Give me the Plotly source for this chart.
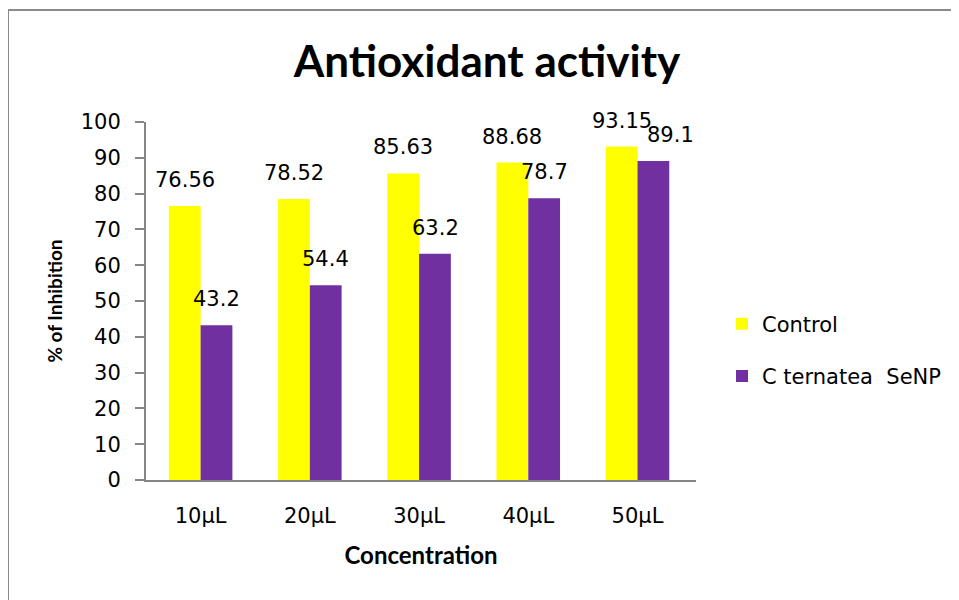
import plotly.graph_objects as go

categories = ["10µL", "20µL", "30µL", "40µL", "50µL"]
control = [76.56, 78.52, 85.63, 88.68, 93.15]
senp = [43.2, 54.4, 63.2, 78.7, 89.1]
series_names = ["Control", "C ternatea  SeNP"]
y_ticks = list(range(0, 101, 10))

YELLOW = "#FFFF00"
PURPLE = "#7030A0"
AXIS = "#868686"
FONT = "DejaVu Sans"
TFONT = "Lato"

OFF = 8  # browser default body margin
W, H = 959 - OFF, 600 - OFF
L, T = 146 - OFF, 122 - OFF
R, B = 263, 120
PW, PH = W - L - R, H - T - B

fig = go.Figure()
fig.add_trace(go.Bar(x=categories, y=control, name=series_names[0],
                     marker=dict(color=YELLOW, line=dict(width=0)),
                     legendgroup="a"))
fig.add_trace(go.Bar(x=categories, y=senp, name=series_names[1],
                     marker=dict(color=PURPLE, line=dict(width=0)),
                     legendgroup="b"))

bar_half = 16
extra_nudge = {(1, 4): 17}
for si, vals in enumerate([control, senp]):
    for ci, (c, v) in enumerate(zip(categories, vals)):
        fig.add_annotation(x=c, y=v, text=f"{v:g}", showarrow=False,
                           xshift=(-bar_half if si == 0 else bar_half) + extra_nudge.get((si, ci), 0),
                           yshift=26, yanchor="middle",
                           font=dict(family=FONT, size=21, color="#000000"))

# chart border (page coords: left 8, top 10)
fig.add_shape(type="rect", xref="paper", yref="paper",
              x0=(8 - OFF - L) / PW, x1=(W + 20 - L) / PW,
              y0=(H - B - (H + 20)) / PH, y1=(H - B - (10 - OFF)) / PH,
              line=dict(color="#8a8a8a", width=2), fillcolor="rgba(0,0,0,0)", layer="below")

fig.update_layout(
    width=W, height=H, autosize=False,
    margin=dict(l=L, r=R, t=T, b=B, pad=0),
    paper_bgcolor="white", plot_bgcolor="white",
    barmode="group", bargap=0.418, bargroupgap=0,
    title=dict(text="<b>Antioxidant activity</b>", x=(487 - OFF) / W, xanchor="center",
               y=1 - (62 - OFF) / H, yanchor="middle",
               font=dict(family=TFONT, size=44, color="#000000")),
    showlegend=True,
    legend=dict(x=(722 - 146) / PW, xanchor="left", y=(480 - 350) / PH, yanchor="middle",
                font=dict(family=FONT, size=21, color="#000000"),
                tracegroupgap=22, traceorder="grouped",
                itemwidth=30, bgcolor="rgba(0,0,0,0)"),
    xaxis=dict(showline=True, linecolor=AXIS, linewidth=2, ticks="",
               tickfont=dict(family=FONT, size=21, color="#000000"),
               ticklabelstandoff=16, showgrid=False,
               title=dict(text="<b>Concentration</b>", standoff=20,
                          font=dict(family=TFONT, size=24, color="#000000"))),
    yaxis=dict(range=[0, 100], tickvals=y_ticks, showline=True, linecolor=AXIS, linewidth=2,
               ticks="outside", ticklen=9, tickcolor=AXIS, tickwidth=2,
               tickfont=dict(family=FONT, size=21, color="#000000"),
               ticklabelstandoff=10, showgrid=False, zeroline=False,
               title=dict(text="<b>% of Inhibition</b>", standoff=13,
                          font=dict(family=TFONT, size=19, color="#000000"))),
)

fig.write_html("out.html")
